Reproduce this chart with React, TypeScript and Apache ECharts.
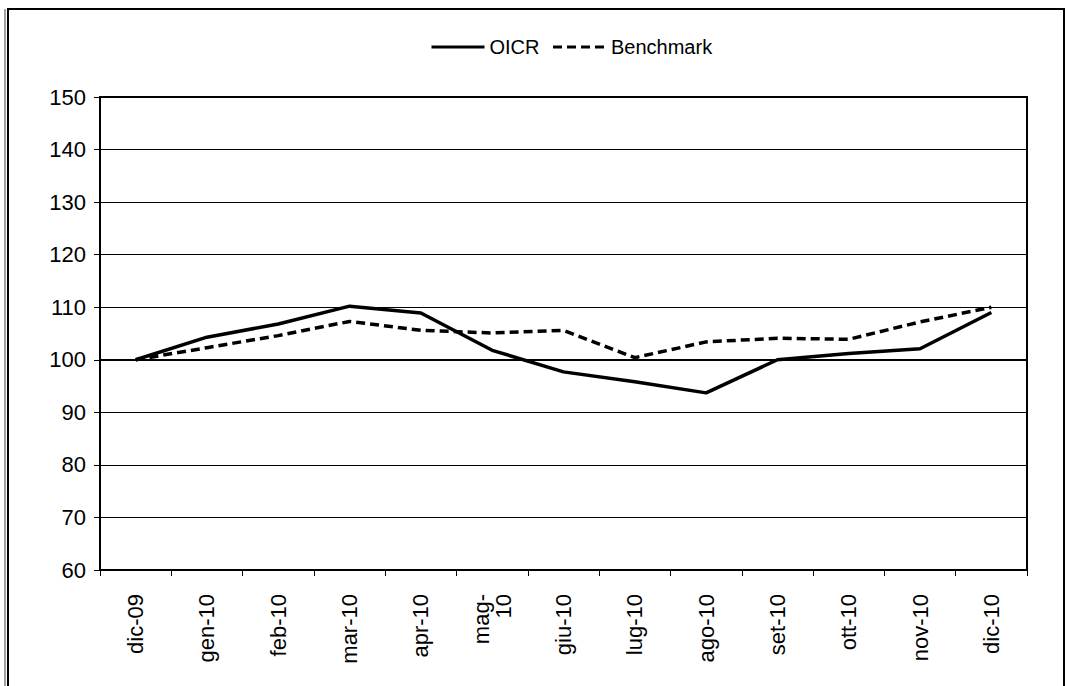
import React, { useEffect, useRef } from "react";
import * as echarts from "echarts";

const categories = ["dic-09", "gen-10", "feb-10", "mar-10", "apr-10", "mag-10", "giu-10", "lug-10", "ago-10", "set-10", "ott-10", "nov-10", "dic-10"];
const oicr = [100, 104.3, 106.8, 110.2, 108.9, 101.8, 97.7, 95.8, 93.7, 100, 101.2, 102.1, 109];
const benchmark = [100, 102.3, 104.6, 107.3, 105.6, 105.1, 105.6, 100.4, 103.4, 104.1, 103.9, 107.2, 110];
const yMin = 60;
const yMax = 150;
const yStep = 10;
const baseline = 100;

const FONT = "'Liberation Sans', Arial, sans-serif";

export default function App() {
  const ref = useRef<HTMLDivElement>(null);
  useEffect(() => {
    if (!ref.current) return;
    const chart = echarts.init(ref.current, null, { renderer: "svg" });
    chart.setOption({
      animation: false,
      backgroundColor: "#fff",
      textStyle: { fontFamily: FONT, color: "#000" },
      graphic: [
        {
          type: "rect",
          shape: { x: 8, y: 9, width: 1056, height: 700 },
          style: { fill: "none", stroke: "#000", lineWidth: 2 },
          silent: true,
        },
        {
          type: "line",
          shape: { x1: 5, y1: 9, x2: 5, y2: 700 },
          style: { stroke: "#444", lineWidth: 1 },
          silent: true,
        },
      ],
      legend: {
        top: 32,
        left: 425,
        itemWidth: 53,
        itemHeight: 14,
        itemGap: 12,
        itemStyle: { opacity: 0 },
        lineStyle: { width: 3 },
        textStyle: { fontSize: 20, fontFamily: FONT, color: "#000" },
        data: ["OICR", "Benchmark"],
      },
      grid: {
        left: 100,
        right: 40,
        top: 97,
        bottom: 116,
        show: true,
        borderColor: "#000",
        borderWidth: 2,
        backgroundColor: "transparent",
      },
      xAxis: {
        type: "category",
        data: categories,
        boundaryGap: true,
        axisLine: { lineStyle: { color: "#000", width: 2 } },
        axisTick: { show: true, length: 6, lineStyle: { color: "#000", width: 1 } },
        axisLabel: {
          rotate: 90,
          margin: 24,
          fontSize: 22,
          color: "#000",
          fontFamily: FONT,
          lineHeight: 22,
          interval: 0,
          formatter: (v: string) => (v === "mag-10" ? "mag-\n10" : v),
        },
        splitLine: { show: false },
      },
      yAxis: {
        type: "value",
        min: yMin,
        max: yMax,
        interval: yStep,
        axisLine: { show: true, lineStyle: { color: "#000", width: 2 } },
        axisTick: { show: true, length: 6, lineStyle: { color: "#000", width: 1 } },
        axisLabel: { fontSize: 22, color: "#000", margin: 14, fontFamily: FONT },
        splitLine: { show: true, lineStyle: { color: "#000", width: 1 } },
      },
      series: [
        {
          name: "OICR",
          type: "line",
          data: oicr,
          symbol: "none",
          lineStyle: { color: "#000", width: 3.5, type: "solid" },
          itemStyle: { color: "#000" },
          markLine: {
            silent: true,
            symbol: "none",
            label: { show: false },
            lineStyle: { color: "#000", width: 2, type: "solid" },
            data: [{ yAxis: baseline }],
          },
          z: 3,
        },
        {
          name: "Benchmark",
          type: "line",
          data: benchmark,
          symbol: "none",
          lineStyle: { color: "#000", width: 3.5, type: [9, 5] },
          itemStyle: { color: "#000" },
          z: 2,
        },
      ],
    });
    return () => chart.dispose();
  }, []);
  return (
    <div
      ref={ref}
      style={{ position: "fixed", left: 0, top: 0, width: 1067, height: 686 }}
    />
  );
}
